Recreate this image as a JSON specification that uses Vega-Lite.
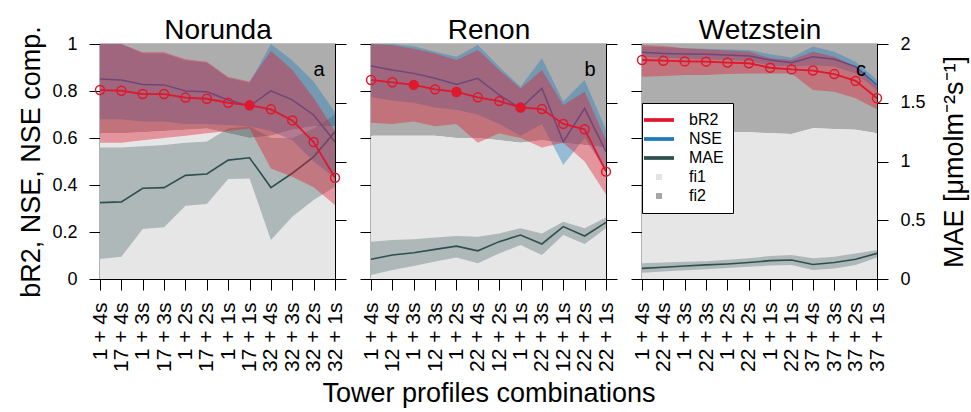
{
  "$schema": "https://vega.github.io/schema/vega-lite/v6.json",
  "background": "white",
  "padding": {"left": 17, "top": 15, "right": 5, "bottom": 1},
  "datasets": {
    "norunda": [
      {"idx": 1, "label": "1 + 4s", "bR2": 0.804, "bR2_lo": 0.58, "bR2_hi": 1.0, "NSE": 0.851, "NSE_lo": 0.68, "NSE_hi": 1.0, "MAE": 0.65, "MAE_lo": 0.17, "MAE_hi": 1.12, "fi1": 0.62, "filled": false, "tag": "a"},
      {"idx": 2, "label": "17 + 4s", "bR2": 0.801, "bR2_lo": 0.58, "bR2_hi": 1.0, "NSE": 0.847, "NSE_lo": 0.68, "NSE_hi": 1.0, "MAE": 0.656, "MAE_lo": 0.19, "MAE_hi": 1.12, "fi1": 0.62, "filled": false, "tag": "a"},
      {"idx": 3, "label": "1 + 3s", "bR2": 0.787, "bR2_lo": 0.59, "bR2_hi": 0.965, "NSE": 0.828, "NSE_lo": 0.67, "NSE_hi": 0.96, "MAE": 0.772, "MAE_lo": 0.426, "MAE_hi": 1.13, "fi1": 0.625, "filled": false, "tag": "a"},
      {"idx": 4, "label": "17 + 3s", "bR2": 0.787, "bR2_lo": 0.6, "bR2_hi": 0.965, "NSE": 0.826, "NSE_lo": 0.67, "NSE_hi": 0.96, "MAE": 0.778, "MAE_lo": 0.44, "MAE_hi": 1.14, "fi1": 0.63, "filled": false, "tag": "a"},
      {"idx": 5, "label": "1 + 2s", "bR2": 0.772, "bR2_lo": 0.61, "bR2_hi": 0.935, "NSE": 0.8, "NSE_lo": 0.66, "NSE_hi": 0.93, "MAE": 0.882, "MAE_lo": 0.624, "MAE_hi": 1.16, "fi1": 0.635, "filled": false, "tag": "a"},
      {"idx": 6, "label": "17 + 2s", "bR2": 0.767, "bR2_lo": 0.62, "bR2_hi": 0.925, "NSE": 0.797, "NSE_lo": 0.66, "NSE_hi": 0.92, "MAE": 0.894, "MAE_lo": 0.638, "MAE_hi": 1.17, "fi1": 0.64, "filled": false, "tag": "a"},
      {"idx": 7, "label": "1 + 1s", "bR2": 0.75, "bR2_lo": 0.63, "bR2_hi": 0.86, "NSE": 0.762, "NSE_lo": 0.655, "NSE_hi": 0.855, "MAE": 1.012, "MAE_lo": 0.852, "MAE_hi": 1.28, "fi1": 0.62, "filled": false, "tag": "a"},
      {"idx": 8, "label": "17 + 1s", "bR2": 0.739, "bR2_lo": 0.64, "bR2_hi": 0.84, "NSE": 0.736, "NSE_lo": 0.65, "NSE_hi": 0.835, "MAE": 1.032, "MAE_lo": 0.856, "MAE_hi": 1.3, "fi1": 0.6, "filled": true, "tag": "a"},
      {"idx": 9, "label": "32 + 4s", "bR2": 0.722, "bR2_lo": 0.47, "bR2_hi": 0.97, "NSE": 0.801, "NSE_lo": 0.63, "NSE_hi": 1.0, "MAE": 0.778, "MAE_lo": 0.332, "MAE_hi": 1.2, "fi1": 0.61, "filled": false, "tag": "a"},
      {"idx": 10, "label": "32 + 3s", "bR2": 0.675, "bR2_lo": 0.435, "bR2_hi": 0.89, "NSE": 0.762, "NSE_lo": 0.59, "NSE_hi": 0.93, "MAE": 0.9, "MAE_lo": 0.53, "MAE_hi": 1.2, "fi1": 0.635, "filled": false, "tag": "a"},
      {"idx": 11, "label": "32 + 2s", "bR2": 0.583, "bR2_lo": 0.39, "bR2_hi": 0.77, "NSE": 0.698, "NSE_lo": 0.5, "NSE_hi": 0.84, "MAE": 1.04, "MAE_lo": 0.672, "MAE_hi": 1.28, "fi1": 0.65, "filled": false, "tag": "a"},
      {"idx": 12, "label": "32 + 1s", "bR2": 0.431, "bR2_lo": 0.315, "bR2_hi": 0.63, "NSE": 0.584, "NSE_lo": 0.43, "NSE_hi": 0.71, "MAE": 1.254, "MAE_lo": 0.786, "MAE_hi": 1.4, "fi1": 0.65, "filled": false, "tag": "a"}
    ],
    "renon": [
      {"idx": 1, "label": "1 + 4s", "bR2": 0.847, "bR2_lo": 0.665, "bR2_hi": 1.0, "NSE": 0.906, "NSE_lo": 0.775, "NSE_hi": 1.0, "MAE": 0.168, "MAE_lo": 0.034, "MAE_hi": 0.318, "fi1": 0.61, "filled": false, "tag": "b"},
      {"idx": 2, "label": "12 + 4s", "bR2": 0.837, "bR2_lo": 0.66, "bR2_hi": 0.995, "NSE": 0.889, "NSE_lo": 0.76, "NSE_hi": 1.0, "MAE": 0.204, "MAE_lo": 0.076, "MAE_hi": 0.332, "fi1": 0.61, "filled": false, "tag": "b"},
      {"idx": 3, "label": "1 + 3s", "bR2": 0.826, "bR2_lo": 0.67, "bR2_hi": 0.98, "NSE": 0.875, "NSE_lo": 0.75, "NSE_hi": 0.99, "MAE": 0.224, "MAE_lo": 0.11, "MAE_hi": 0.338, "fi1": 0.61, "filled": true, "tag": "b"},
      {"idx": 4, "label": "12 + 3s", "bR2": 0.807, "bR2_lo": 0.65, "bR2_hi": 0.96, "NSE": 0.854, "NSE_lo": 0.73, "NSE_hi": 0.967, "MAE": 0.252, "MAE_lo": 0.148, "MAE_hi": 0.354, "fi1": 0.61, "filled": false, "tag": "b"},
      {"idx": 5, "label": "1 + 2s", "bR2": 0.796, "bR2_lo": 0.66, "bR2_hi": 0.932, "NSE": 0.828, "NSE_lo": 0.72, "NSE_hi": 0.946, "MAE": 0.28, "MAE_lo": 0.184, "MAE_hi": 0.366, "fi1": 0.6, "filled": true, "tag": "b"},
      {"idx": 6, "label": "22 + 4s", "bR2": 0.773, "bR2_lo": 0.58, "bR2_hi": 0.974, "NSE": 0.854, "NSE_lo": 0.7, "NSE_hi": 0.996, "MAE": 0.24, "MAE_lo": 0.134, "MAE_hi": 0.36, "fi1": 0.6, "filled": false, "tag": "b"},
      {"idx": 7, "label": "12 + 2s", "bR2": 0.757, "bR2_lo": 0.62, "bR2_hi": 0.889, "NSE": 0.783, "NSE_lo": 0.66, "NSE_hi": 0.903, "MAE": 0.318, "MAE_lo": 0.218, "MAE_hi": 0.388, "fi1": 0.59, "filled": false, "tag": "b"},
      {"idx": 8, "label": "1 + 1s", "bR2": 0.73, "bR2_lo": 0.6, "bR2_hi": 0.811, "NSE": 0.726, "NSE_lo": 0.61, "NSE_hi": 0.818, "MAE": 0.374, "MAE_lo": 0.29, "MAE_hi": 0.432, "fi1": 0.58, "filled": true, "tag": "b"},
      {"idx": 9, "label": "22 + 3s", "bR2": 0.723, "bR2_lo": 0.56, "bR2_hi": 0.889, "NSE": 0.811, "NSE_lo": 0.66, "NSE_hi": 0.939, "MAE": 0.298, "MAE_lo": 0.204, "MAE_hi": 0.388, "fi1": 0.59, "filled": false, "tag": "b"},
      {"idx": 10, "label": "12 + 1s", "bR2": 0.66, "bR2_lo": 0.58, "bR2_hi": 0.74, "NSE": 0.584, "NSE_lo": 0.485, "NSE_hi": 0.755, "MAE": 0.446, "MAE_lo": 0.374, "MAE_hi": 0.488, "fi1": 0.58, "filled": false, "tag": "b"},
      {"idx": 11, "label": "22 + 2s", "bR2": 0.637, "bR2_lo": 0.5, "bR2_hi": 0.797, "NSE": 0.726, "NSE_lo": 0.6, "NSE_hi": 0.847, "MAE": 0.366, "MAE_lo": 0.298, "MAE_hi": 0.432, "fi1": 0.57, "filled": false, "tag": "b"},
      {"idx": 12, "label": "22 + 1s", "bR2": 0.457, "bR2_lo": 0.36, "bR2_hi": 0.59, "NSE": 0.542, "NSE_lo": 0.46, "NSE_hi": 0.634, "MAE": 0.482, "MAE_lo": 0.432, "MAE_hi": 0.524, "fi1": 0.56, "filled": false, "tag": "b"}
    ],
    "wetzstein": [
      {"idx": 1, "label": "1 + 4s", "bR2": 0.932, "bR2_lo": 0.861, "bR2_hi": 0.996, "NSE": 0.965, "NSE_lo": 0.946, "NSE_hi": 0.989, "MAE": 0.09, "MAE_lo": 0.054, "MAE_hi": 0.134, "fi1": 0.62, "filled": false, "tag": "c"},
      {"idx": 2, "label": "22 + 4s", "bR2": 0.929, "bR2_lo": 0.864, "bR2_hi": 0.992, "NSE": 0.96, "NSE_lo": 0.942, "NSE_hi": 0.986, "MAE": 0.1, "MAE_lo": 0.064, "MAE_hi": 0.14, "fi1": 0.622, "filled": false, "tag": "c"},
      {"idx": 3, "label": "1 + 3s", "bR2": 0.926, "bR2_lo": 0.868, "bR2_hi": 0.982, "NSE": 0.957, "NSE_lo": 0.938, "NSE_hi": 0.982, "MAE": 0.11, "MAE_lo": 0.074, "MAE_hi": 0.146, "fi1": 0.625, "filled": false, "tag": "c"},
      {"idx": 4, "label": "22 + 3s", "bR2": 0.925, "bR2_lo": 0.868, "bR2_hi": 0.977, "NSE": 0.956, "NSE_lo": 0.935, "NSE_hi": 0.98, "MAE": 0.12, "MAE_lo": 0.084, "MAE_hi": 0.152, "fi1": 0.627, "filled": false, "tag": "c"},
      {"idx": 5, "label": "1 + 2s", "bR2": 0.921, "bR2_lo": 0.872, "bR2_hi": 0.972, "NSE": 0.953, "NSE_lo": 0.932, "NSE_hi": 0.977, "MAE": 0.128, "MAE_lo": 0.094, "MAE_hi": 0.164, "fi1": 0.627, "filled": false, "tag": "c"},
      {"idx": 6, "label": "22 + 2s", "bR2": 0.918, "bR2_lo": 0.875, "bR2_hi": 0.967, "NSE": 0.949, "NSE_lo": 0.928, "NSE_hi": 0.974, "MAE": 0.14, "MAE_lo": 0.104, "MAE_hi": 0.176, "fi1": 0.625, "filled": false, "tag": "c"},
      {"idx": 7, "label": "1 + 1s", "bR2": 0.899, "bR2_lo": 0.875, "bR2_hi": 0.939, "NSE": 0.932, "NSE_lo": 0.91, "NSE_hi": 0.956, "MAE": 0.156, "MAE_lo": 0.114, "MAE_hi": 0.196, "fi1": 0.62, "filled": false, "tag": "c"},
      {"idx": 8, "label": "22 + 1s", "bR2": 0.892, "bR2_lo": 0.875, "bR2_hi": 0.932, "NSE": 0.92, "NSE_lo": 0.904, "NSE_hi": 0.943, "MAE": 0.162, "MAE_lo": 0.12, "MAE_hi": 0.204, "fi1": 0.617, "filled": false, "tag": "c"},
      {"idx": 9, "label": "37 + 4s", "bR2": 0.887, "bR2_lo": 0.804, "bR2_hi": 0.967, "NSE": 0.946, "NSE_lo": 0.91, "NSE_hi": 0.989, "MAE": 0.124, "MAE_lo": 0.076, "MAE_hi": 0.176, "fi1": 0.641, "filled": false, "tag": "c"},
      {"idx": 10, "label": "37 + 3s", "bR2": 0.872, "bR2_lo": 0.797, "bR2_hi": 0.946, "NSE": 0.935, "NSE_lo": 0.904, "NSE_hi": 0.967, "MAE": 0.14, "MAE_lo": 0.09, "MAE_hi": 0.19, "fi1": 0.638, "filled": false, "tag": "c"},
      {"idx": 11, "label": "37 + 2s", "bR2": 0.843, "bR2_lo": 0.769, "bR2_hi": 0.904, "NSE": 0.904, "NSE_lo": 0.875, "NSE_hi": 0.925, "MAE": 0.168, "MAE_lo": 0.12, "MAE_hi": 0.218, "fi1": 0.635, "filled": false, "tag": "c"},
      {"idx": 12, "label": "37 + 1s", "bR2": 0.769, "bR2_lo": 0.722, "bR2_hi": 0.818, "NSE": 0.826, "NSE_lo": 0.804, "NSE_hi": 0.847, "MAE": 0.218, "MAE_lo": 0.184, "MAE_hi": 0.246, "fi1": 0.62, "filled": false, "tag": "c"}
    ]
  },
  "spacing": 36,
  "bounds": "flush",
  "resolve": {"scale": {"color": "independent", "shape": "independent"}},
  "hconcat": [
    {
      "width": 235,
      "height": 235,
      "data": {"name": "norunda"},
      "resolve": {"scale": {"y": "independent"}, "axis": {"x": "independent"}},
      "layer": [
        {
          "encoding": {"x": {"field": "label", "type": "ordinal", "scale": {"type": "point", "padding": 0, "domain": ["1 + 4s", "17 + 4s", "1 + 3s", "17 + 3s", "1 + 2s", "17 + 2s", "1 + 1s", "17 + 1s", "32 + 4s", "32 + 3s", "32 + 2s", "32 + 1s"]}, "axis": {"orient": "top", "title": "Norunda", "labels": false, "ticks": false, "domain": false, "titleFontSize": 28, "titlePadding": 0}}},
          "layer": [
            {"mark": {"type": "area", "color": "#adadad"}, "encoding": {"y": {"field": "fi1", "type": "quantitative", "scale": {"domain": [0, 1], "nice": false}, "axis": {"values": [0, 0.2, 0.4, 0.6, 0.8, 1], "format": "~g", "labelPadding": 12, "title": "bR2, NSE, NSE comp.", "titlePadding": 6}}, "y2": {"datum": 1}}},
            {"mark": {"type": "area", "color": "#e6e6e6"}, "encoding": {"y": {"field": "fi1", "type": "quantitative"}, "y2": {"datum": 0}}}
          ]
        },
        {
          "encoding": {"x": {"field": "label", "type": "ordinal", "scale": {"type": "point", "padding": 0}, "axis": {"orient": "bottom", "title": null, "labelAngle": -90, "labelPadding": 12}}},
          "layer": [
            {"mark": {"type": "area", "color": "#2f4f4f", "opacity": 0.3, "clip": true}, "encoding": {"y": {"field": "MAE_lo", "type": "quantitative", "scale": {"domain": [0, 2], "nice": false}, "axis": {"orient": "right", "values": [0, 0.5, 1, 1.5, 2], "labels": false, "title": null}}, "y2": {"field": "MAE_hi"}}},
            {"mark": {"type": "line", "color": "#2f4f4f", "strokeWidth": 1.6, "clip": true}, "encoding": {"y": {"field": "MAE", "type": "quantitative", "axis": {"orient": "right", "values": [0, 0.5, 1, 1.5, 2], "labels": false, "title": null}}}}
          ]
        },
        {
          "encoding": {"x": {"field": "label", "type": "ordinal", "scale": {"type": "point", "padding": 0}, "axis": null}},
          "layer": [
            {"mark": {"type": "area", "color": "#1f7ab8", "opacity": 0.4, "clip": true}, "encoding": {"y": {"field": "NSE_lo", "type": "quantitative", "scale": {"domain": [0, 1], "nice": false}, "axis": null}, "y2": {"field": "NSE_hi"}}},
            {"mark": {"type": "line", "color": "#2166ac", "strokeWidth": 1.5, "clip": true}, "encoding": {"y": {"field": "NSE", "type": "quantitative", "axis": null}}},
            {"mark": {"type": "area", "color": "#e0182d", "opacity": 0.4, "clip": true}, "encoding": {"y": {"field": "bR2_lo", "type": "quantitative", "axis": null}, "y2": {"field": "bR2_hi"}}},
            {"mark": {"type": "line", "color": "#e0182d", "strokeWidth": 1.8, "clip": true}, "encoding": {"y": {"field": "bR2", "type": "quantitative", "axis": null}}},
            {"mark": {"type": "point", "shape": "circle", "filled": true, "size": 80, "stroke": "#e0182d", "strokeWidth": 1.5, "opacity": 1}, "encoding": {"y": {"field": "bR2", "type": "quantitative", "axis": null}, "fill": {"condition": {"test": "datum.filled", "value": "#e0182d"}, "value": "transparent"}}},
            {"transform": [{"filter": "datum.idx === 12"}], "mark": {"type": "text", "fontSize": 20, "dx": -16, "align": "center", "baseline": "middle", "color": "black"}, "encoding": {"y": {"datum": 0.89, "axis": null}, "text": {"field": "tag"}}}
          ]
        }
      ]
    },
    {
      "width": 235,
      "height": 235,
      "data": {"name": "renon"},
      "resolve": {"scale": {"y": "independent"}, "axis": {"x": "independent"}},
      "layer": [
        {
          "encoding": {"x": {"field": "label", "type": "ordinal", "scale": {"type": "point", "padding": 0, "domain": ["1 + 4s", "12 + 4s", "1 + 3s", "12 + 3s", "1 + 2s", "22 + 4s", "12 + 2s", "1 + 1s", "22 + 3s", "12 + 1s", "22 + 2s", "22 + 1s"]}, "axis": {"orient": "top", "title": "Renon", "labels": false, "ticks": false, "domain": false, "titleFontSize": 28, "titlePadding": 0}}},
          "layer": [
            {"mark": {"type": "area", "color": "#adadad"}, "encoding": {"y": {"field": "fi1", "type": "quantitative", "scale": {"domain": [0, 1], "nice": false}, "axis": {"values": [0, 0.2, 0.4, 0.6, 0.8, 1], "labels": false, "title": null}}, "y2": {"datum": 1}}},
            {"mark": {"type": "area", "color": "#e6e6e6"}, "encoding": {"y": {"field": "fi1", "type": "quantitative"}, "y2": {"datum": 0}}}
          ]
        },
        {
          "encoding": {"x": {"field": "label", "type": "ordinal", "scale": {"type": "point", "padding": 0}, "axis": {"orient": "bottom", "title": "Tower profiles combinations", "titlePadding": 9, "labelAngle": -90, "labelPadding": 12}}},
          "layer": [
            {"mark": {"type": "area", "color": "#2f4f4f", "opacity": 0.3, "clip": true}, "encoding": {"y": {"field": "MAE_lo", "type": "quantitative", "scale": {"domain": [0, 2], "nice": false}, "axis": {"orient": "right", "values": [0, 0.5, 1, 1.5, 2], "labels": false, "title": null}}, "y2": {"field": "MAE_hi"}}},
            {"mark": {"type": "line", "color": "#2f4f4f", "strokeWidth": 1.6, "clip": true}, "encoding": {"y": {"field": "MAE", "type": "quantitative", "axis": {"orient": "right", "values": [0, 0.5, 1, 1.5, 2], "labels": false, "title": null}}}}
          ]
        },
        {
          "encoding": {"x": {"field": "label", "type": "ordinal", "scale": {"type": "point", "padding": 0}, "axis": null}},
          "layer": [
            {"mark": {"type": "area", "color": "#1f7ab8", "opacity": 0.4, "clip": true}, "encoding": {"y": {"field": "NSE_lo", "type": "quantitative", "scale": {"domain": [0, 1], "nice": false}, "axis": null}, "y2": {"field": "NSE_hi"}}},
            {"mark": {"type": "line", "color": "#2166ac", "strokeWidth": 1.5, "clip": true}, "encoding": {"y": {"field": "NSE", "type": "quantitative", "axis": null}}},
            {"mark": {"type": "area", "color": "#e0182d", "opacity": 0.4, "clip": true}, "encoding": {"y": {"field": "bR2_lo", "type": "quantitative", "axis": null}, "y2": {"field": "bR2_hi"}}},
            {"mark": {"type": "line", "color": "#e0182d", "strokeWidth": 1.8, "clip": true}, "encoding": {"y": {"field": "bR2", "type": "quantitative", "axis": null}}},
            {"mark": {"type": "point", "shape": "circle", "filled": true, "size": 80, "stroke": "#e0182d", "strokeWidth": 1.5, "opacity": 1}, "encoding": {"y": {"field": "bR2", "type": "quantitative", "axis": null}, "fill": {"condition": {"test": "datum.filled", "value": "#e0182d"}, "value": "transparent"}}},
            {"transform": [{"filter": "datum.idx === 12"}], "mark": {"type": "text", "fontSize": 20, "dx": -16, "align": "center", "baseline": "middle", "color": "black"}, "encoding": {"y": {"datum": 0.89, "axis": null}, "text": {"field": "tag"}}}
          ]
        }
      ]
    },
    {
      "width": 235,
      "height": 235,
      "data": {"name": "wetzstein"},
      "resolve": {"scale": {"y": "independent"}, "axis": {"x": "independent"}},
      "layer": [
        {
          "encoding": {"x": {"field": "label", "type": "ordinal", "scale": {"type": "point", "padding": 0, "domain": ["1 + 4s", "22 + 4s", "1 + 3s", "22 + 3s", "1 + 2s", "22 + 2s", "1 + 1s", "22 + 1s", "37 + 4s", "37 + 3s", "37 + 2s", "37 + 1s"]}, "axis": {"orient": "top", "title": "Wetzstein", "labels": false, "ticks": false, "domain": false, "titleFontSize": 28, "titlePadding": 0}}},
          "layer": [
            {"mark": {"type": "area", "color": "#adadad"}, "encoding": {"y": {"field": "fi1", "type": "quantitative", "scale": {"domain": [0, 1], "nice": false}, "axis": {"values": [0, 0.2, 0.4, 0.6, 0.8, 1], "labels": false, "title": null}}, "y2": {"datum": 1}}},
            {"mark": {"type": "area", "color": "#e6e6e6"}, "encoding": {"y": {"field": "fi1", "type": "quantitative"}, "y2": {"datum": 0}}}
          ]
        },
        {
          "encoding": {"x": {"field": "label", "type": "ordinal", "scale": {"type": "point", "padding": 0}, "axis": {"orient": "bottom", "title": null, "labelAngle": -90, "labelPadding": 12}}},
          "layer": [
            {"mark": {"type": "area", "color": "#2f4f4f", "opacity": 0.3, "clip": true}, "encoding": {"y": {"field": "MAE_lo", "type": "quantitative", "scale": {"domain": [0, 2], "nice": false}, "axis": {"orient": "right", "values": [0, 0.5, 1, 1.5, 2], "format": "~g", "labelPadding": 12, "title": "MAE [μmolm⁻²s⁻¹]", "titleAngle": 270, "titleBaseline": "top", "titlePadding": 16}}, "y2": {"field": "MAE_hi"}}},
            {"mark": {"type": "line", "color": "#2f4f4f", "strokeWidth": 1.6, "clip": true}, "encoding": {"y": {"field": "MAE", "type": "quantitative", "axis": {"orient": "right", "values": [0, 0.5, 1, 1.5, 2], "format": "~g", "labelPadding": 12, "title": "MAE [μmolm⁻²s⁻¹]", "titleAngle": 270, "titleBaseline": "top", "titlePadding": 16}}}}
          ]
        },
        {
          "encoding": {"x": {"field": "label", "type": "ordinal", "scale": {"type": "point", "padding": 0}, "axis": null}},
          "layer": [
            {"mark": {"type": "area", "color": "#1f7ab8", "opacity": 0.4, "clip": true}, "encoding": {"y": {"field": "NSE_lo", "type": "quantitative", "scale": {"domain": [0, 1], "nice": false}, "axis": null}, "y2": {"field": "NSE_hi"}}},
            {"mark": {"type": "line", "color": "#2166ac", "strokeWidth": 1.5, "clip": true}, "encoding": {"y": {"field": "NSE", "type": "quantitative", "axis": null}}},
            {"mark": {"type": "area", "color": "#e0182d", "opacity": 0.4, "clip": true}, "encoding": {"y": {"field": "bR2_lo", "type": "quantitative", "axis": null}, "y2": {"field": "bR2_hi"}}},
            {"mark": {"type": "line", "color": "#e0182d", "strokeWidth": 1.8, "clip": true}, "encoding": {"y": {"field": "bR2", "type": "quantitative", "axis": null}}},
            {"mark": {"type": "point", "shape": "circle", "filled": true, "size": 80, "stroke": "#e0182d", "strokeWidth": 1.5, "opacity": 1}, "encoding": {"y": {"field": "bR2", "type": "quantitative", "axis": null}, "fill": {"condition": {"test": "datum.filled", "value": "#e0182d"}, "value": "transparent"}}},
            {"transform": [{"filter": "datum.idx === 12"}], "mark": {"type": "text", "fontSize": 20, "dx": -16, "align": "center", "baseline": "middle", "color": "black"}, "encoding": {"y": {"datum": 0.89, "axis": null}, "text": {"field": "tag"}}},
            {
              "data": {"values": [{"series": "bR2"}, {"series": "NSE"}, {"series": "MAE"}, {"series": "fi1"}, {"series": "fi2"}]},
              "mark": {"type": "point", "filled": true, "opacity": 1},
              "encoding": {
                "y": {"field": "v", "type": "quantitative", "axis": null},
                "color": {"field": "series", "type": "nominal", "scale": {"domain": ["bR2", "NSE", "MAE", "fi1", "fi2"], "range": ["#e0182d", "#1f7ab8", "#2f4f4f", "#e3e3e3", "#a6a6a6"]}, "legend": {"title": null}},
                "shape": {"field": "series", "type": "nominal", "scale": {"domain": ["bR2", "NSE", "MAE", "fi1", "fi2"], "range": ["M-2,-0.25H2V0.25H-2Z", "M-2,-0.25H2V0.25H-2Z", "M-2,-0.25H2V0.25H-2Z", "M-0.4,-0.4H0.4V0.4H-0.4Z", "M-0.4,-0.4H0.4V0.4H-0.4Z"]}, "legend": {"title": null}}
              }
            }
          ]
        }
      ]
    }
  ],
  "config": {
    "font": "Liberation Sans",
    "view": {"stroke": "black", "strokeWidth": 1.2},
    "axis": {"grid": false, "domainColor": "black", "domainWidth": 1, "tickColor": "black", "tickSize": 11, "tickWidth": 1, "labelFontSize": 18, "labelColor": "black", "labelPadding": 12, "titleFontSize": 27, "titleFontWeight": "normal", "titleColor": "black"},
    "axisX": {"labelFontSize": 21},
    "legend": {"orient": "none", "legendX": 0, "legendY": 59, "fillColor": "white", "strokeColor": "black", "padding": 9, "labelFontSize": 16, "labelColor": "black", "symbolSize": 225, "symbolStrokeWidth": 0, "symbolOpacity": 1, "labelOffset": 22, "rowPadding": 3}
  }
}
